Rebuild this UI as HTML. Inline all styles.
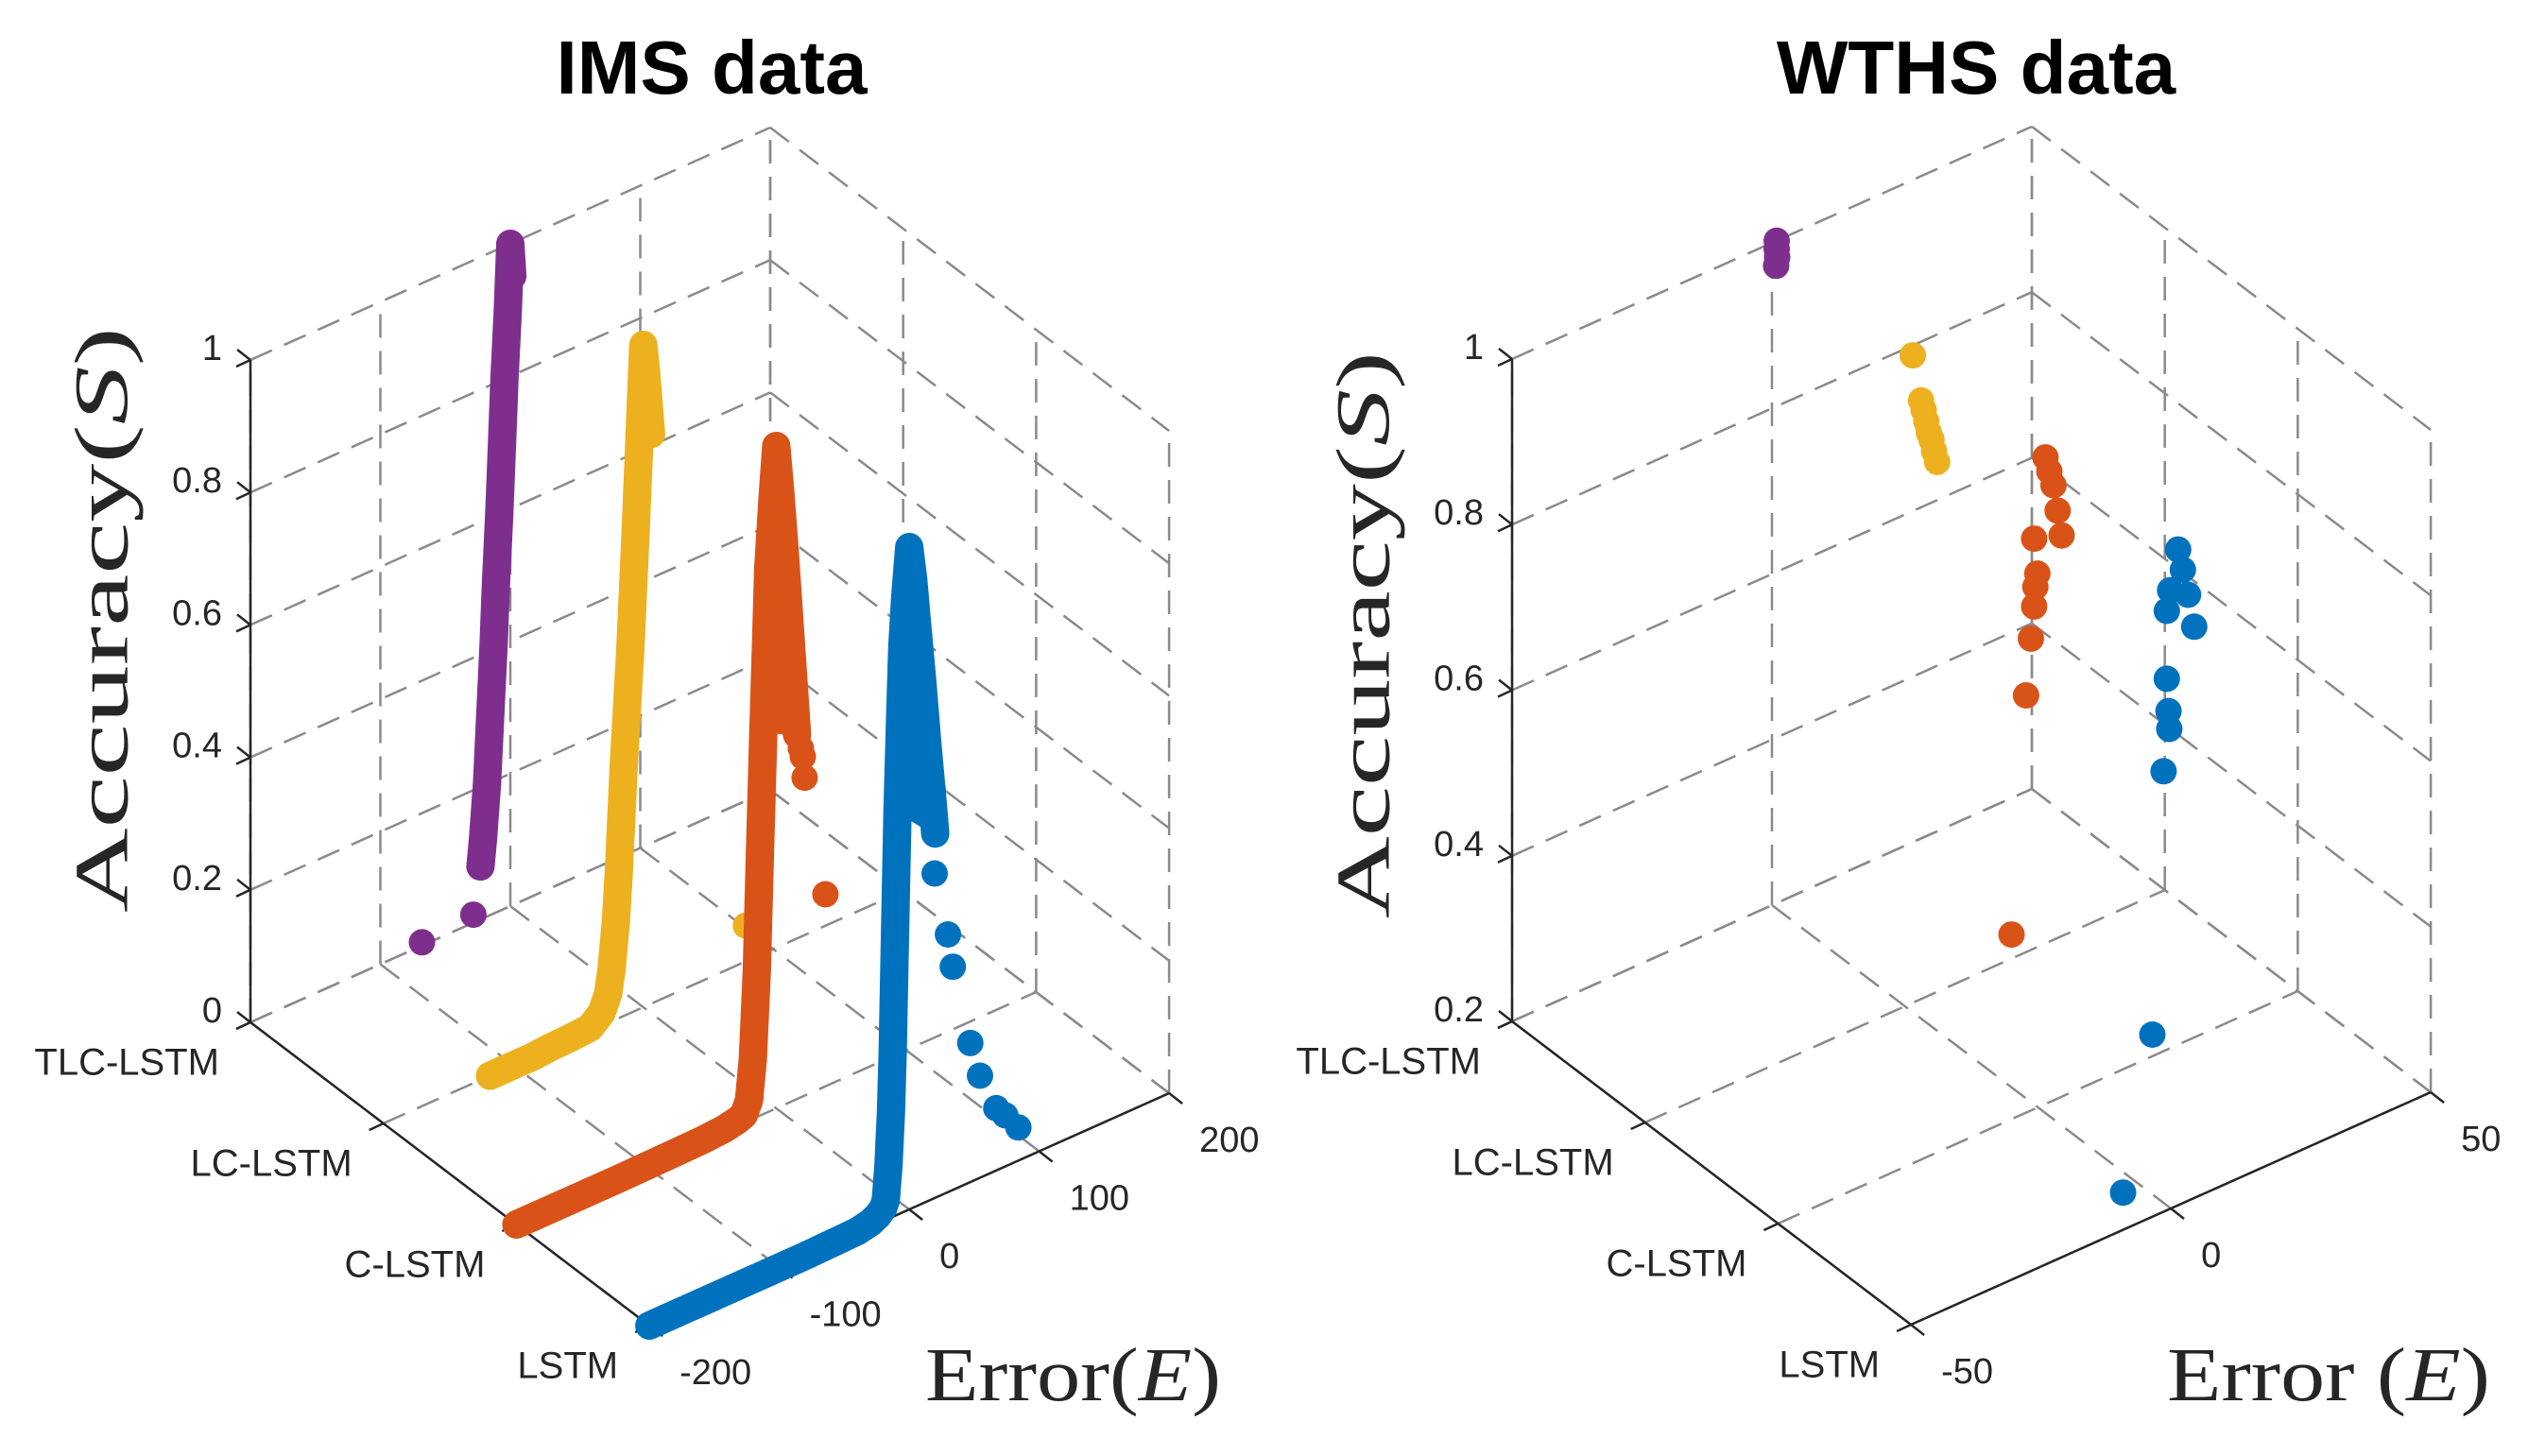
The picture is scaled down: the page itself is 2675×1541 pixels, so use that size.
<!DOCTYPE html>
<html><head><meta charset="utf-8"><style>
html,body{margin:0;padding:0;background:#fff;}
svg{display:block;}
text{font-family:"Liberation Sans",sans-serif;fill:#262626;}
</style></head><body>
<svg id="chart" width="2675" height="1541" viewBox="0 0 2675 1541" xmlns="http://www.w3.org/2000/svg">
<text x="753" y="99" text-anchor="middle" font-size="80" font-weight="bold" style="fill:#000">IMS data</text>
<text x="2091" y="99" text-anchor="middle" font-size="80" font-weight="bold" style="fill:#000">WTHS data</text>
<text transform="translate(116,656) rotate(-90)" text-anchor="middle" dominant-baseline="middle" font-size="80" textLength="620" lengthAdjust="spacingAndGlyphs" style="font-family:'Liberation Serif',serif">Accuracy(<tspan font-style="italic">S</tspan>)</text>
<text transform="translate(1451,672) rotate(-90)" text-anchor="middle" dominant-baseline="middle" font-size="80" textLength="600" lengthAdjust="spacingAndGlyphs" style="font-family:'Liberation Serif',serif">Accuracy(<tspan font-style="italic">S</tspan>)</text>
<text x="979" y="1482" font-size="80" textLength="313" lengthAdjust="spacingAndGlyphs" style="font-family:'Liberation Serif',serif">Error(<tspan font-style="italic">E</tspan>)</text>
<text x="2293" y="1482" font-size="80" textLength="342" lengthAdjust="spacingAndGlyphs" style="font-family:'Liberation Serif',serif">Error (<tspan font-style="italic">E</tspan>)</text>
</svg>
<script>
// ---- data ----
const categories = ["TLC-LSTM","LC-LSTM","C-LSTM","LSTM"];
const imsSTicks = [0,0.2,0.4,0.6,0.8,1];
const imsSTickLabels = ["0","0.2","0.4","0.6","0.8","1"];
const imsETicks = [-200,-100,0,100,200];
const imsETickLabels = ["-200","-100","0","100","200"];
const wthsSTicks = [0.2,0.4,0.6,0.8,1];
const wthsSTickLabels = ["0.2","0.4","0.6","0.8","1"];
const wthsETicks = [-50,0,50];
const wthsETickLabels = ["-50","0","50"];

// IMS series (dense = continuous run of markers, sparse = isolated markers)
const imsLstmE = [-200,-170,-140,-110,-80,-60,-40,-30,-24,-20,-18,-16,-14,-12.7,-11,-9,-7,-5.3,-3,0,3,6,10,14,18,20];
const imsLstmS = [0,0,0,0,0,0.001,0.002,0.006,0.012,0.02,0.03,0.08,0.16,0.25,0.42,0.61,0.75,0.855,0.93,1.0,0.95,0.88,0.79,0.69,0.6,0.55];
const imsLstmSparseE = [18.2,19.6,19.6,29.8,33.5,47,54.5,67,74,84];
const imsLstmSparseS = [0.616,0.552,0.49,0.389,0.337,0.21,0.154,0.094,0.077,0.05];
const imsClstmE = [-200,-160,-120,-80,-55,-40,-30,-25,-21,-18,-15,-12.5,-9.9,-8,-6.2,-3,0,3,6,9,12,16];
const imsClstmS = [0,0,0,0.001,0.002,0.004,0.008,0.012,0.03,0.09,0.22,0.4,0.58,0.7,0.82,0.92,1.0,0.93,0.85,0.76,0.67,0.55];
const imsClstmSparseE = [18.9,20.4,21.8,37.8];
const imsClstmSparseS = [0.527,0.513,0.48,0.29];
const imsLclstmE = [-118,-100,-85,-72,-55,-41,-32,-27,-24.5,-21,-18.8,-15,-10,-6,-3,0,2,4,6];
const imsLclstmS = [0,0,0,0.002,0.003,0.005,0.02,0.045,0.077,0.15,0.22,0.38,0.55,0.72,0.86,1.0,0.96,0.91,0.86];
const imsLclstmSparseE = [79];
const imsLclstmSparseS = [0.054];
const imsTlclstmE = [-23,-21,-18,-15.5,-13,-11,-8.5,-6.5,-4.5,-2,0,1.5];
const imsTlclstmS = [0.08,0.12,0.2,0.3,0.4,0.5,0.6,0.7,0.8,0.9,1.0,0.95];
const imsTlclstmSparseE = [-28.4,-68];
const imsTlclstmSparseS = [0.012,0.005];

// WTHS series (isolated markers)
const wthsTlclstmE = [0.9,0.9,1.0,0.8];
const wthsTlclstmS = [1.0,0.99,0.98,0.97];
const wthsLclstmE = [1.5,3.1,3.6,4.1,4.6,5.1,5.6,6.2];
const wthsLclstmS = [0.982,0.923,0.91,0.895,0.88,0.87,0.855,0.84];
const wthsClstmE = [1.45,2.2,3.0,3.8,4.56,-0.73,-0.1,-0.5,-0.73,-1.35,-2.27,-5.07];
const wthsClstmS = [0.981,0.962,0.943,0.91,0.878,0.889,0.845,0.83,0.807,0.77,0.704,0.423];
const wthsLstmE = [1.4,2.3,-0.15,3.3,-0.78,4.5,-0.78,-0.46,-0.3,-1.4,-3.56,-9.2];
const wthsLstmS = [0.992,0.965,0.947,0.932,0.924,0.89,0.842,0.802,0.78,0.732,0.42,0.245];

const colors = {lstm:"#0072BD", clstm:"#D95319", lclstm:"#EDB120", tlclstm:"#7E2F8E"};
const NS = "http://www.w3.org/2000/svg";
const svg = document.getElementById("chart");

function mk(tag, attrs, parent){
  const e = document.createElementNS(NS, tag);
  for (const k in attrs) e.setAttribute(k, attrs[k]);
  (parent||svg).appendChild(e);
  return e;
}

function makePanel(name, ox, oy, Emin, Emax, Smin, Smax){
  const catV = [140.7,107], eV = [550,-246], sH = 701;
  const proj = (c,E,S) => {
    const fe = (E-Emin)/(Emax-Emin), fs = (S-Smin)/(Smax-Smin);
    return [ox + catV[0]*c + eV[0]*fe, oy + catV[1]*c + eV[1]*fe - sH*fs];
  };
  return {name, proj, Emin, Emax, Smin, Smax};
}

function line(g, p1, p2, cls, nm){
  const l = mk("line",{x1:p1[0].toFixed(1),y1:p1[1].toFixed(1),x2:p2[0].toFixed(1),y2:p2[1].toFixed(1)}, g);
  if (cls==="grid"){ l.setAttribute("stroke","#8a8a8a"); l.setAttribute("stroke-width","2.5"); l.setAttribute("stroke-dasharray","25 14"); }
  else { l.setAttribute("stroke","#262626"); l.setAttribute("stroke-width","2.5"); }
  
  
  return l;
}

function drawAxes(P, sTicks, sLabels, eTicks, eLabels){
  const g = mk("g",{});
  
  
  const {proj, Emin, Emax, Smin, Smax} = P;
  for (let c=0;c<4;c++) line(g, proj(c,Emin,Smin), proj(c,Emax,Smin), "grid", "floor-grid-line");
  eTicks.forEach(E => line(g, proj(0,E,Smin), proj(3,E,Smin), "grid", "floor-grid-line"));
  sTicks.forEach(S => line(g, proj(0,Emin,S), proj(0,Emax,S), "grid", "wall-grid-line"));
  eTicks.forEach(E => line(g, proj(0,E,Smin), proj(0,E,Smax), "grid", "wall-grid-line"));
  sTicks.forEach(S => line(g, proj(0,Emax,S), proj(3,Emax,S), "grid", "wall-grid-line"));
  for (let c=0;c<4;c++) line(g, proj(c,Emax,Smin), proj(c,Emax,Smax), "grid", "wall-grid-line");
  line(g, proj(0,Emin,Smin), proj(0,Emin,Smax), "axis", "y-axis-line");
  line(g, proj(0,Emin,Smin), proj(3,Emin,Smin), "axis", "category-axis-line");
  line(g, proj(3,Emin,Smin), proj(3,Emax,Smin), "axis", "x-axis-line");
  sTicks.forEach((S,i) => {
    const p = proj(0,Emin,S);
    line(g, p, [p[0]-15,p[1]+7], "axis", "y-tick");
    line(g, p, [p[0]-14,p[1]-11], "axis", "y-tick");
    const t = mk("text",{x:(p[0]-30).toFixed(1), y:(p[1]-10).toFixed(1), "text-anchor":"end", "dominant-baseline":"middle", "font-size":"38"}, g);
    t.textContent = sLabels[i];
    
    
  });
  categories.forEach((cat,c) => {
    const p = proj(c,Emin,Smin);
    line(g, p, [p[0]-15,p[1]+7], "axis", "category-tick");
    const t = mk("text",{x:(p[0]-33).toFixed(1), y:(p[1]+45).toFixed(1), "text-anchor":"end", "dominant-baseline":"middle", "font-size":"40"}, g);
    t.textContent = cat;
    
    
  });
  eTicks.forEach((E,i) => {
    const p = proj(3,E,Smin);
    line(g, p, [p[0]+14,p[1]+11], "axis", "x-tick");
    const t = mk("text",{x:(p[0]+32).toFixed(1), y:(p[1]+52).toFixed(1), "text-anchor":"start", "dominant-baseline":"middle", "font-size":"38"}, g);
    t.textContent = eLabels[i];
    
    
  });
}

function drawSeries(P, c, Es, Ss, color, nm, dense){
  const g = mk("g",{});
  
  
  const pts = Es.map((E,i) => P.proj(c, E, Ss[i]));
  if (dense && pts.length > 1){
    // filled wedge around the peak (points with S >= 0.5)
    const peak = pts.filter((p,i) => Ss[i] >= 0.5);
    if (peak.length > 2){
      const pg = mk("polygon",{points: peak.map(p=>p[0].toFixed(1)+","+p[1].toFixed(1)).join(" "), fill:color, stroke:color, "stroke-width":"4"}, g);
      
      
    }
    const pl = mk("polyline",{points: pts.map(p=>p[0].toFixed(1)+","+p[1].toFixed(1)).join(" "), fill:"none", stroke:color, "stroke-width":"30", "stroke-linecap":"round", "stroke-linejoin":"round"}, g);
    
    
  }
  pts.forEach(p => {
    const m = mk("circle",{cx:p[0].toFixed(1), cy:p[1].toFixed(1), r:"14", fill:color}, g);
    
    
  });
}

const ims = makePanel("ims", 265, 1082, -200, 200, 0, 1);
const wths = makePanel("wths", 1600, 1081, -50, 50, 0.2, 1);

drawAxes(ims, imsSTicks, imsSTickLabels, imsETicks, imsETickLabels);
drawAxes(wths, wthsSTicks, wthsSTickLabels, wthsETicks, wthsETickLabels);

drawSeries(ims, 0, imsTlclstmE, imsTlclstmS, colors.tlclstm, "ims-tlc-lstm-series", true);
drawSeries(ims, 0, imsTlclstmSparseE, imsTlclstmSparseS, colors.tlclstm, "ims-tlc-lstm-outliers", false);
drawSeries(ims, 1, imsLclstmE, imsLclstmS, colors.lclstm, "ims-lc-lstm-series", true);
drawSeries(ims, 1, imsLclstmSparseE, imsLclstmSparseS, colors.lclstm, "ims-lc-lstm-outliers", false);
drawSeries(ims, 2, imsClstmE, imsClstmS, colors.clstm, "ims-c-lstm-series", true);
drawSeries(ims, 2, imsClstmSparseE, imsClstmSparseS, colors.clstm, "ims-c-lstm-outliers", false);
drawSeries(ims, 3, imsLstmE, imsLstmS, colors.lstm, "ims-lstm-series", true);
drawSeries(ims, 3, imsLstmSparseE, imsLstmSparseS, colors.lstm, "ims-lstm-outliers", false);

drawSeries(wths, 0, wthsTlclstmE, wthsTlclstmS, colors.tlclstm, "wths-tlc-lstm-series", false);
drawSeries(wths, 1, wthsLclstmE, wthsLclstmS, colors.lclstm, "wths-lc-lstm-series", false);
drawSeries(wths, 2, wthsClstmE, wthsClstmS, colors.clstm, "wths-c-lstm-series", false);
drawSeries(wths, 3, wthsLstmE, wthsLstmS, colors.lstm, "wths-lstm-series", false);
</script>
</body></html>
